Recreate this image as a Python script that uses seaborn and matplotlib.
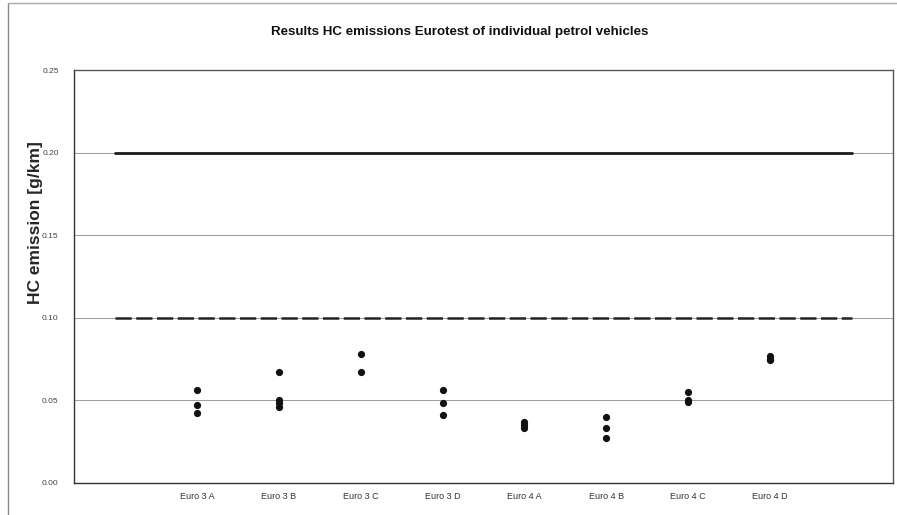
import matplotlib
matplotlib.use('Agg')
import matplotlib.pyplot as plt
import numpy as np
import pandas as pd
import seaborn as sns

# Data
categories = ['', 'Euro 3 A', 'Euro 3 B', 'Euro 3 C', 'Euro 3 D',
              'Euro 4 A', 'Euro 4 B', 'Euro 4 C', 'Euro 4 D', ' ']
euro3_a = [0.056, 0.047, 0.042]
euro3_b = [0.067, 0.050, 0.048, 0.046]
euro3_c = [0.078, 0.067]
euro3_d = [0.056, 0.048, 0.041]
euro4_a = [0.037, 0.035, 0.033]
euro4_b = [0.040, 0.033, 0.027]
euro4_c = [0.055, 0.050, 0.049]
euro4_d = [0.077, 0.075, 0.074]
euro3_limit = 0.20
euro4_limit = 0.10
y_ticks = [0.00, 0.05, 0.10, 0.15, 0.20, 0.25]

results = {'Euro 3 A': euro3_a, 'Euro 3 B': euro3_b, 'Euro 3 C': euro3_c,
           'Euro 3 D': euro3_d, 'Euro 4 A': euro4_a, 'Euro 4 B': euro4_b,
           'Euro 4 C': euro4_c, 'Euro 4 D': euro4_d}
df = pd.DataFrame([(k, v) for k, vals in results.items() for v in vals],
                  columns=['vehicle', 'hc'])

sns.set_style('white')
plt.rcParams['font.family'] = ['Liberation Sans', 'DejaVu Sans']

fig = plt.figure(figsize=(8.97, 5.15), dpi=100)
ax = fig.add_axes([0.0825, 0.063, 0.913, 0.801])

sns.stripplot(data=df, x='vehicle', y='hc', order=categories, jitter=False,
              color='#111111', size=5.2, linewidth=0, ax=ax, zorder=3)

xs = np.arange(len(categories))
sns.lineplot(x=xs, y=[euro3_limit] * len(xs), color='#1a1a1a', linewidth=2.0, ax=ax)
sns.lineplot(x=xs, y=[euro4_limit] * len(xs), color='#222222', linewidth=1.8,
             dashes=False, ax=ax).lines[-1].set_dashes([6.5, 1.8])

ax.set_ylim(0, 0.25)
ax.set_yticks(y_ticks)
ax.set_yticklabels([f'{t:.2f}' for t in y_ticks], fontsize=6, color='#444444')
ax.set_xlim(-0.5, len(categories) - 0.5)
ax.set_xticks(np.arange(-0.5, len(categories), 1), minor=True)
ax.set_xticklabels(categories, fontsize=6.5, color='#333333')
ax.tick_params(axis='x', which='major', length=0, pad=7)
ax.tick_params(axis='x', which='minor', length=3, color='#333333', direction='out')
ax.tick_params(axis='y', length=4, color='#555555', pad=7)

for t in y_ticks[1:-1]:
    ax.axhline(t, color='#9a9a9a', linewidth=0.7, zorder=0)

for side in ['left', 'bottom', 'top', 'right']:
    ax.spines[side].set_visible(True)
    ax.spines[side].set_color('#333333')
    ax.spines[side].set_linewidth(1.0)
ax.spines['top'].set_color('#555555')
ax.spines['right'].set_color('#555555')

ax.set_xlabel('')
ax.set_ylabel('HC emission [g/km]', fontsize=12.5, fontweight='bold')
ax.yaxis.set_label_coords(-0.038, 0.63)
fig.text(0.512, 0.938, 'Results HC emissions Eurotest of individual petrol vehicles',
         ha='center', va='center', fontsize=9.6, fontweight='bold', color='#111111')

# scanned page border
fig.add_artist(plt.Line2D([0.009, 0.009], [0.0, 0.995], color='#888888', linewidth=1.0))
fig.add_artist(plt.Line2D([0.009, 1.0], [0.995, 0.995], color='#aaaaaa', linewidth=1.0))

fig.savefig('out.png', dpi=100)
